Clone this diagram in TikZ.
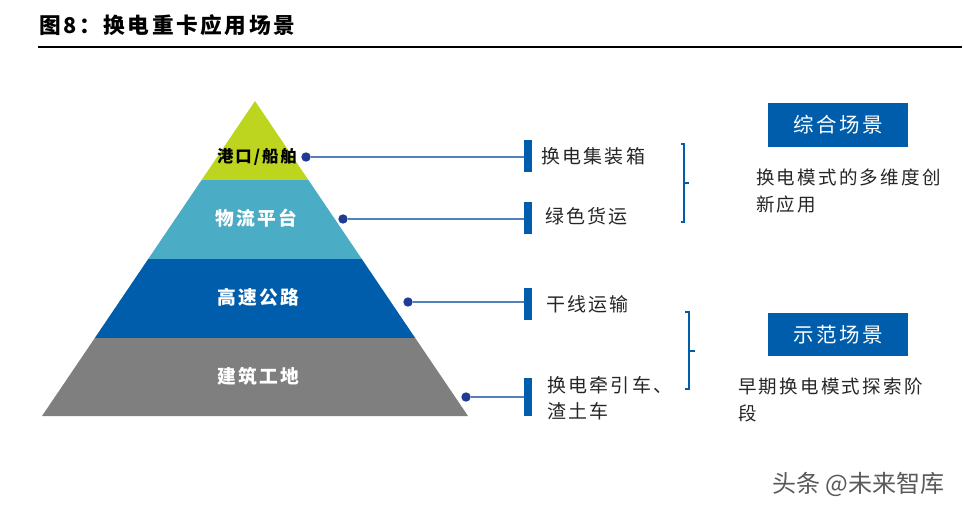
\documentclass[tikz,border=0pt]{standalone}
\usepackage{fontspec}
\setmainfont{Liberation Serif}
\newfontfamily\cjk[LetterSpace=12]{Noto Sans CJK SC}
\newfontfamily\wmfont{Noto Sans CJK SC}
\definecolor{pyrgreen}{HTML}{BDD51E}
\definecolor{pyrteal}{HTML}{4BACC6}
\definecolor{pyrblue}{HTML}{005DAC}
\definecolor{pyrgray}{HTML}{7F7F7F}
\definecolor{dotblue}{HTML}{1E3C96}
\definecolor{lineblue}{HTML}{4F81BD}

\begin{document}
\begin{tikzpicture}[x=0.03cm,y=-0.03cm,
  lbl/.style={anchor=west,inner sep=0pt,text=black!85,align=left,font=\cjk\fontsize{16.2}{22}\selectfont},
  lyr/.style={inner sep=0pt,text=white,font=\cjk\bfseries\fontsize{16}{20}\selectfont},
  dot/.style={circle,fill=dotblue,inner sep=0pt,minimum size=8pt},
  bar/.style={fill=pyrblue,inner sep=0pt,minimum width=7pt},
  link/.style={lineblue,line width=1.1pt},
  brk/.style={pyrblue,line width=1.2pt},
  scene/.style={fill=pyrblue,text=white,inner sep=0pt,minimum width=119pt,minimum height=37pt,font=\cjk\fontsize{17.5}{20}\selectfont},
  desc/.style={anchor=west,inner sep=0pt,text=black!85,align=left,font=\cjk\fontsize{15.8}{23}\selectfont}]
\useasboundingbox (0,0) rectangle (964,509);
\node[anchor=west,inner sep=0pt,font=\cjk\bfseries\fontsize{18.5}{22}\selectfont] (title) at (39,25) {图8：换电重卡应用场景};
\draw[line width=0.9pt] (38,47) -- (962,47);
\fill[pyrgreen] (255,101) -- (308.4,180) -- (201.6,180) -- cycle;
\fill[pyrteal] (201.6,180) -- (308.4,180) -- (361.8,259) -- (148.2,259) -- cycle;
\fill[pyrblue] (148.2,259) -- (361.8,259) -- (415.2,338) -- (94.8,338) -- cycle;
\fill[pyrgray] (94.8,338) -- (415.2,338) -- (468,416) -- (42,416) -- cycle;
\node[lyr,text=black,font=\cjk\bfseries\fontsize{14}{18}\selectfont] (port) at (257,157) {港口/船舶};
\node[lyr] (logi) at (256,218) {物流平台};
\node[lyr] (road) at (258,297) {高速公路};
\node[lyr] (site) at (258,376) {建筑工地};
\node[dot] (d1) at (306,157) {};
\node[dot] (d2) at (343,219) {};
\node[dot] (d3) at (408,302) {};
\node[dot] (d4) at (466,397) {};
\node[bar,minimum height=27pt] (b1) at (528,156) {};
\node[bar,minimum height=27pt] (b2) at (528,218) {};
\node[bar,minimum height=27pt] (b3) at (528,304) {};
\node[bar,minimum height=33pt] (b4) at (528,397) {};
\draw[link] (d1) -- (d1 -| b1.west);
\draw[link] (d2) -- (d2 -| b2.west);
\draw[link] (d3) -- (d3 -| b3.west);
\draw[link] (d4) -- (d4 -| b4.west);
\node[lbl] (box) at (541,156) {换电集装箱};
\node[lbl] (green) at (545,216) {绿色货运};
\node[lbl] (trunk) at (546,304) {干线运输};
\node[lbl] (tract) at (547,398) {换电牵引车、\\渣土车};
\draw[brk] (681,144) -- (684,144) -- (684,222) -- (681,222);
\draw[brk] (684,183) -- (689,183);
\draw[brk] (685,312) -- (689,312) -- (689,389) -- (685,389);
\draw[brk] (689,351) -- (695,351);
\node[scene] (s1) at (838,125) {综合场景};
\node[scene] (s2) at (838,334.5) {示范场景};
\node[desc] (t1) at (756,191) {换电模式的多维度创\\新应用};
\node[desc] (t2) at (738,400) {早期换电模式探索阶\\段};
\node[anchor=west,inner sep=0pt,text=black!65,font=\wmfont\fontsize{20.5}{24}\selectfont] (wm) at (772,484) {头条 @未来智库};
\end{tikzpicture}
\end{document}
